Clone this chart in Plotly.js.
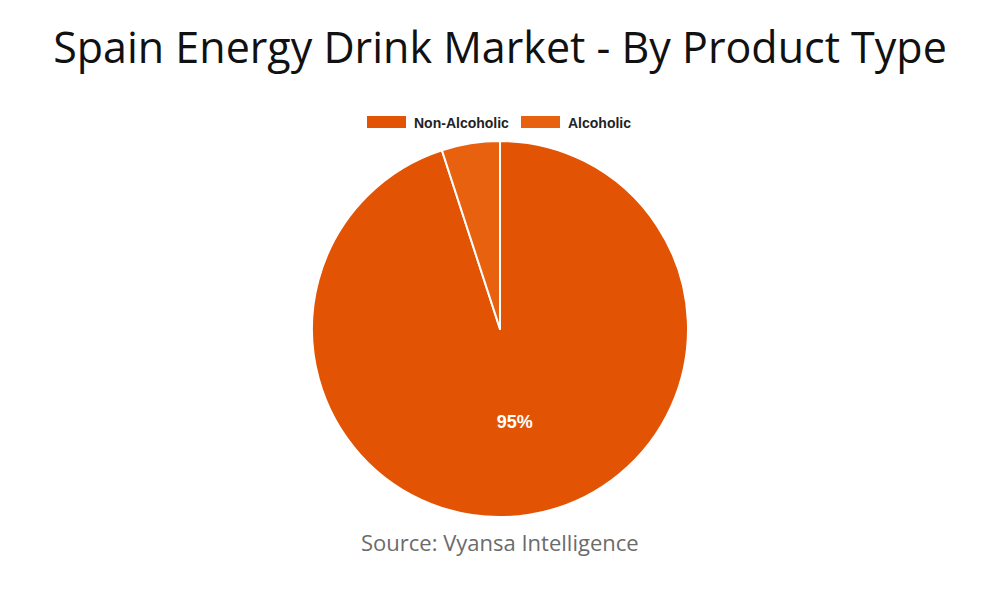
<!DOCTYPE html>
<html><head><meta charset="utf-8">
<script src="https://cdn.plot.ly/plotly-3.0.1.min.js"></script>
<style>html,body{margin:0;padding:0;background:#fff;}#chart{width:1000px;height:600px;}</style>
</head><body><div id="chart"></div>
<script>
const categories = ['Non-Alcoholic', 'Alcoholic'];
const shares = [95, 5];
const sliceLabels = ['95%', ''];
const colors = ['#E25303', '#E8610F'];

const trace = {
  type: 'pie',
  labels: categories,
  values: shares,
  text: sliceLabels,
  textinfo: 'text',
  texttemplate: '%{text}',
  textposition: 'inside',
  insidetextorientation: 'horizontal',
  insidetextfont: {family: 'Liberation Sans, Arial, sans-serif', size: 18, color: '#ffffff', weight: 'bold'},
  sort: false,
  direction: 'clockwise',
  rotation: 0,
  marker: {colors: colors, line: {color: '#ffffff', width: 2}},
  hoverinfo: 'label+percent',
  showlegend: false
};

// plot area spans y 141..517 px, x 0..1000 px
const py = v => (517 - v) / 376;
const px = v => v / 1000;

const shapes = [];
const annotations = [];
const legendX = [367, 521];
categories.forEach((c, i) => {
  shapes.push({type: 'rect', xref: 'paper', yref: 'paper', layer: 'above',
    x0: px(legendX[i]), x1: px(legendX[i] + 39),
    y0: py(128), y1: py(116),
    fillcolor: colors[i], line: {width: 0}});
  annotations.push({xref: 'paper', yref: 'paper', x: px(legendX[i] + 45), y: py(122.5),
    xanchor: 'left', yanchor: 'middle', showarrow: false, text: c,
    font: {family: 'Liberation Sans, Arial, sans-serif', size: 14, color: '#222', weight: 'bold'}});
});
annotations.push({xref: 'paper', yref: 'paper', x: 0.5, y: py(542), xanchor: 'center', yanchor: 'middle',
  showarrow: false, text: 'Source: Vyansa Intelligence',
  font: {family: 'Open Sans, sans-serif', size: 22, color: '#6b6b6b'}});

const layout = {
  width: 1000, height: 600,
  margin: {l: 0, r: 0, t: 141, b: 83},
  paper_bgcolor: '#ffffff',
  title: {text: 'Spain Energy Drink Market - By Product Type', x: 0.5, xanchor: 'center', y: 1 - 48 / 600, yanchor: 'middle',
    font: {family: 'Open Sans, sans-serif', size: 43, color: '#111'}},
  shapes: shapes,
  annotations: annotations
};

Plotly.newPlot('chart', [trace], layout, {displayModeBar: false, staticPlot: true});
</script></body></html>
